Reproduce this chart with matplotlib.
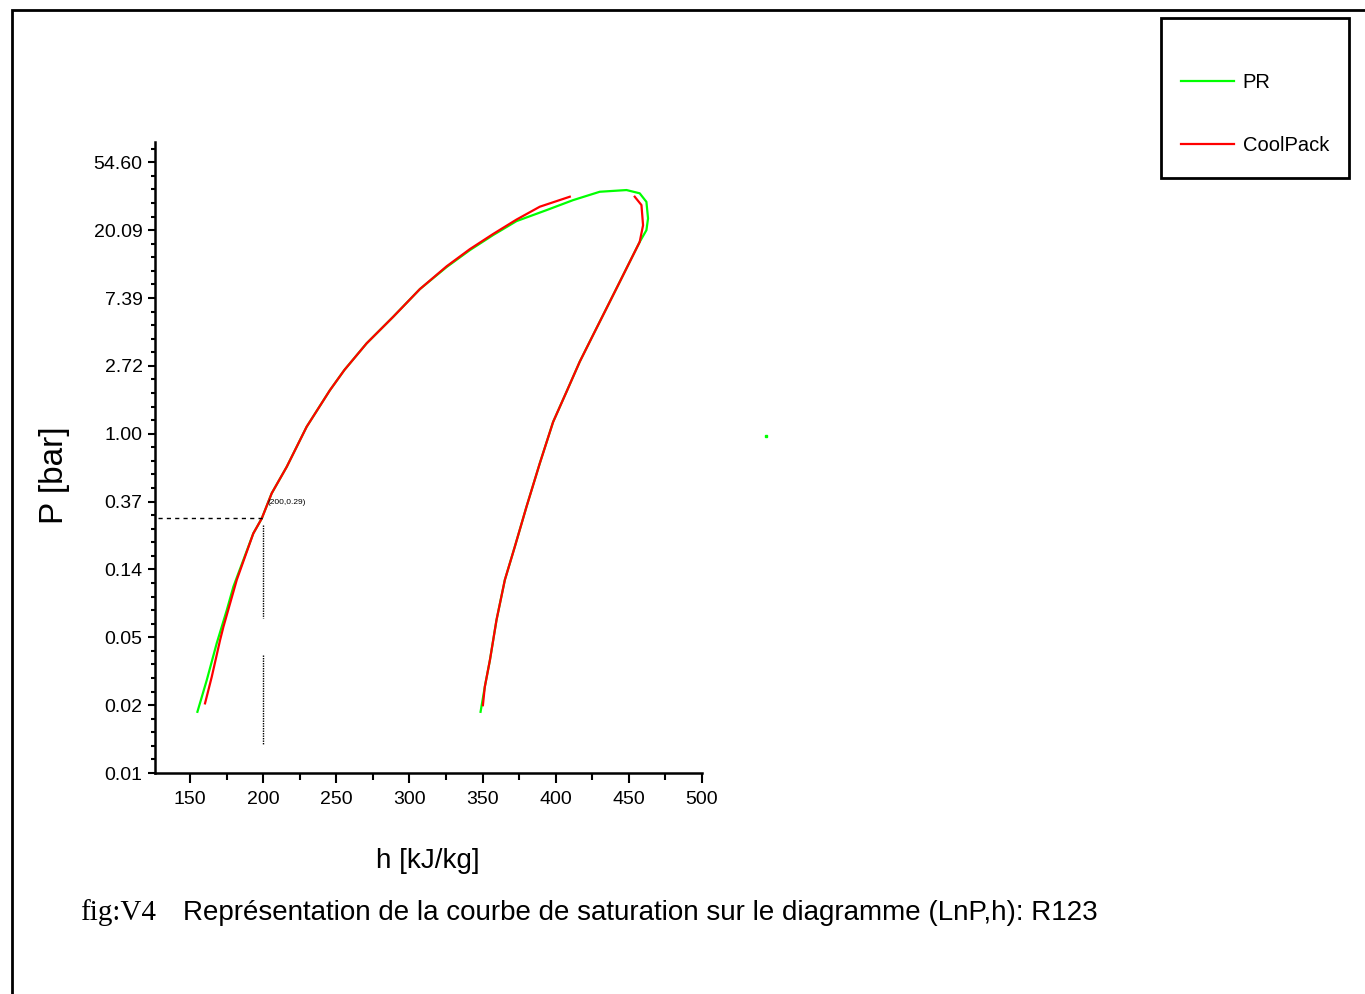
import numpy as np
import matplotlib.pyplot as plt
from matplotlib.patches import Rectangle

# Courbe de saturation R123 : modele PR (courbe fermee)
h_pr = [155.0, 161.4, 168.2, 175.1, 179.6, 193.2, 199.0, 205.8, 216.1, 229.7,
        245.6, 255.5, 270.7, 288.9, 307.1, 325.4, 341.3, 357.2, 373.2, 393.7,
        411.9, 430.1, 448.4, 457.4, 462.0, 463.1, 462.0, 457.4, 450.6, 443.8,
        434.7, 425.5, 416.4, 407.4, 398.2, 389.1, 380.0, 372.0, 365.2, 359.5,
        355.0, 351.5, 348.6]
p_pr = [0.0166, 0.0265, 0.0456, 0.0744, 0.105, 0.230, 0.287, 0.416, 0.615, 1.109,
        1.90, 2.56, 3.79, 5.61, 8.43, 11.67, 14.98, 18.7, 22.97, 27.0,
        31.3, 35.4, 36.3, 34.6, 30.5, 23.9, 20.1, 16.9, 12.6, 9.39,
        6.35, 4.28, 2.89, 1.86, 1.19, 0.647, 0.341, 0.189, 0.116, 0.0643,
        0.0356, 0.0240, 0.0166]

# CoolPack : branche liquide et branche vapeur
h_cp_liq = [160.2, 164.8, 170.5, 172.8, 181.9, 193.2, 199.0, 205.8, 216.1, 229.7,
            245.6, 255.5, 270.7, 288.9, 307.1, 325.4, 341.3, 357.2, 373.2, 389.1, 409.6]
p_cp_liq = [0.0188, 0.0278, 0.0478, 0.0582, 0.116, 0.230, 0.287, 0.416, 0.615, 1.109,
            1.90, 2.56, 3.79, 5.61, 8.43, 11.8, 15.2, 19.0, 23.5, 28.4, 32.9]
h_cp_vap = [454.0, 458.6, 459.7, 457.4, 450.6, 443.8, 434.7, 425.5, 416.4, 407.4,
            398.2, 389.1, 380.0, 372.0, 365.2, 359.5, 355.0, 351.5, 350.2]
p_cp_vap = [32.9, 29.1, 21.6, 16.9, 12.6, 9.39, 6.35, 4.28, 2.89, 1.86,
            1.19, 0.647, 0.341, 0.189, 0.116, 0.0643, 0.0356, 0.0240, 0.0183]

# point repere (200 kJ/kg ; 0.29 bar)
h_point = 200
p_point = 0.287
p_vert_1 = [0.2605, 0.0661]
p_vert_2 = [0.0384, 0.0102]
h_horiz = [128, 200]

# point isole (vert) hors du cadre
h_isole = [544]
p_isole = [0.97]

# graduations en ln P
ln_ticks = np.arange(-5, 5)
x_ticks = [150, 200, 250, 300, 350, 400, 450, 500]

plt.rcParams['font.family'] = ['Liberation Sans', 'DejaVu Sans']

fig = plt.figure(figsize=(13.65, 9.94), dpi=100)
ax = fig.add_axes([155/1365, 1-773/994, (702-155)/1365, (773-142)/994])

ax.plot(h_pr, np.log(p_pr), color='#00ff00', lw=1.6, label='PR')
ax.plot(h_cp_liq, np.log(p_cp_liq), color='#ff0000', lw=1.6, label='CoolPack')
ax.plot(h_cp_vap, np.log(p_cp_vap), color='#ff0000', lw=1.6)
ax.plot(h_isole, np.log(p_isole), 's', color='#00ff00', ms=1.5, clip_on=False)

# lignes de repere
ax.plot(h_horiz, [np.log(p_point)] * 2, color='black', lw=1, dashes=(3, 3))
ax.plot([h_point] * 2, np.log(p_vert_1), color='black', lw=1, dashes=(1, 0.8))
ax.plot([h_point] * 2, np.log(p_vert_2), color='black', lw=1, dashes=(1, 0.8))
ax.text(h_point + 3, np.log(p_point) + 0.23, '(200,0.29)', fontsize=6, va='center')

ax.set_xlim(126, 500)
ax.set_ylim(-5, 4.3)
ax.set_xticks(x_ticks)
ax.set_xticks(np.arange(175, 500, 50), minor=True)
ax.set_yticks(ln_ticks)
ax.set_yticklabels([f'{np.exp(k):.2f}' for k in ln_ticks])
ax.set_yticks([k + i / 5 for k in ln_ticks[:-1] for i in range(1, 5)]
              + [4.2], minor=True)
ax.tick_params(axis='x', which='major', length=7, width=1.5, labelsize=14, pad=6)
ax.tick_params(axis='x', which='minor', length=5, width=1.5)
ax.tick_params(axis='y', which='major', length=5, width=1.5, labelsize=14, pad=4)
ax.tick_params(axis='y', which='minor', length=3, width=1.5)
for s in ['top', 'right']:
    ax.spines[s].set_visible(False)
for s in ['left', 'bottom']:
    ax.spines[s].set_linewidth(1.8)

fig.text(428/1365, 1-861/994, 'h [kJ/kg]', fontsize=20, ha='center', va='center')
fig.text(55/1365, 1-475/994, 'P [bar]', fontsize=24, rotation=90, ha='center', va='center')
fig.text(80/1365, 1-913/994, 'fig:V4', fontsize=21, family='Liberation Serif', va='center')
fig.text(183/1365, 1-913/994,
         'Représentation de la courbe de saturation sur le diagramme (LnP,h): R123',
         fontsize=20, va='center')

# legende dans un cadre
fig.patches.append(Rectangle((1161/1365, 1-178/994), 188/1365, 160/994,
                             transform=fig.transFigure, fill=False, lw=2, ec='black'))
fig.legend(loc='center', bbox_to_anchor=(1255/1365, 1-114/994), frameon=False,
           fontsize=14.5, handlelength=2.65, handletextpad=0.4, labelspacing=2.2)

# cadre de la page
fig.patches.append(Rectangle((12/1365, -0.1), 1.2, 1.1 - 10/994,
                             transform=fig.transFigure, fill=False, lw=2, ec='black'))

plt.savefig('out.png', dpi=100)
